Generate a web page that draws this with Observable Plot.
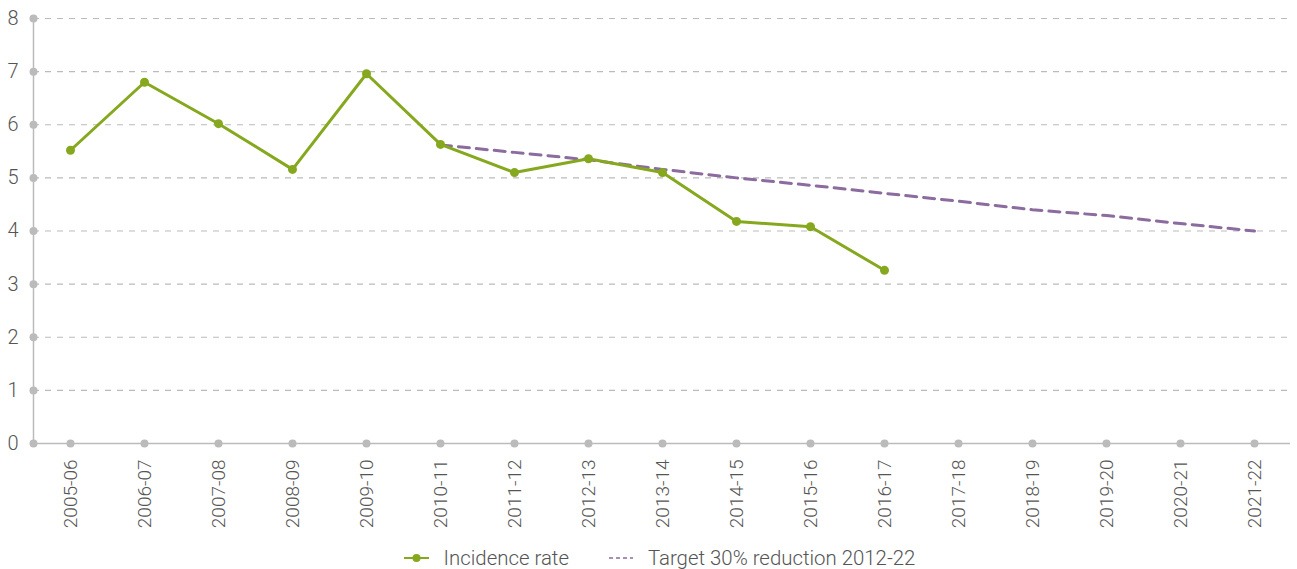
<!DOCTYPE html>
<html>
<head>
<meta charset="utf-8">
<script src="https://cdn.jsdelivr.net/npm/d3@7"></script>
<script src="https://cdn.jsdelivr.net/npm/@observablehq/plot@0.6"></script>
<style>
  body { margin: 0; background: #fff; font-family: Roboto, "Open Sans", sans-serif; }
  #legend { display: flex; justify-content: center; align-items: center; gap: 40px; font-size: 20.4px; font-weight: 300; color: #555; margin-top: 6px; padding-left: 22px; }
  #legend span.item { display: inline-flex; align-items: center; gap: 15px; }
</style>
</head>
<body>
<div id="chart"></div>
<div id="legend">
  <span class="item"><svg width="25" height="10"><line x1="0" y1="5" x2="25" y2="5" stroke="#85a81e" stroke-width="2"/><circle cx="12.5" cy="5" r="4" fill="#85a81e"/></svg>Incidence rate</span>
  <span class="item"><svg width="24" height="10"><line x1="0" y1="5" x2="24" y2="5" stroke="#8c6b9e" stroke-width="1.5" stroke-dasharray="4,3"/></svg>Target 30% reduction 2012-22</span>
</div>
<script>
const categories = ["2005-06","2006-07","2007-08","2008-09","2009-10","2010-11","2011-12","2012-13","2013-14","2014-15","2015-16","2016-17","2017-18","2018-19","2019-20","2020-21","2021-22"];
const incidenceYears = ["2005-06","2006-07","2007-08","2008-09","2009-10","2010-11","2011-12","2012-13","2013-14","2014-15","2015-16","2016-17"];
const incidenceValues = [5.52, 6.80, 6.02, 5.16, 6.96, 5.63, 5.10, 5.36, 5.10, 4.18, 4.08, 3.26];
const targetYears = ["2010-11","2011-12","2012-13","2013-14","2014-15","2015-16","2016-17","2017-18","2018-19","2019-20","2020-21","2021-22"];
const targetValues = [5.62, 5.48, 5.34, 5.16, 5.00, 4.86, 4.71, 4.56, 4.40, 4.29, 4.14, 4.00];
const yTicks = [0,1,2,3,4,5,6,7,8];

const incidence = incidenceYears.map((c, i) => ({year: c, value: incidenceValues[i]}));
const target = targetYears.map((c, i) => ({year: c, value: targetValues[i]}));

const gray = "#bbbbbb";
const chart = Plot.plot({
  width: 1297,
  height: 540,
  marginLeft: 33,
  marginRight: 7,
  marginTop: 18,
  marginBottom: 97,
  style: {fontFamily: "Roboto, sans-serif", color: "#555", fontWeight: 300},
  x: {type: "point", domain: categories, padding: 0.4},
  y: {domain: [0, 8]},
  marks: [
    Plot.ruleY(yTicks.filter(d => d > 0), {y: d => d, stroke: gray, strokeWidth: 1.2, strokeDasharray: "6,6"}),
    Plot.ruleY([0], {stroke: gray, strokeWidth: 1.5}),
    Plot.frame({anchor: "left", stroke: gray, strokeWidth: 1.5}),
    Plot.dot(yTicks, {y: d => d, frameAnchor: "left", r: 4, fill: gray, stroke: "none"}),
    Plot.dot(categories, {x: d => d, y: () => 0, r: 4, fill: gray, stroke: "none"}),
    Plot.axisY({ticks: yTicks, tickSize: 0, tickPadding: 15, fontSize: 20, label: null, fill: "#555"}),
    Plot.axisX({tickSize: 0, tickPadding: 16, tickRotate: -90, fontSize: 19, label: null, fill: "#555"}),
    Plot.line(target, {x: "year", y: "value", stroke: "#8c6b9e", strokeWidth: 3, strokeDasharray: "11,7"}),
    Plot.line(incidence, {x: "year", y: "value", stroke: "#85a81e", strokeWidth: 3}),
    Plot.dot(incidence, {x: "year", y: "value", r: 4.5, fill: "#85a81e", stroke: "none"})
  ]
});
document.getElementById("chart").appendChild(chart);
</script>
</body>
</html>
